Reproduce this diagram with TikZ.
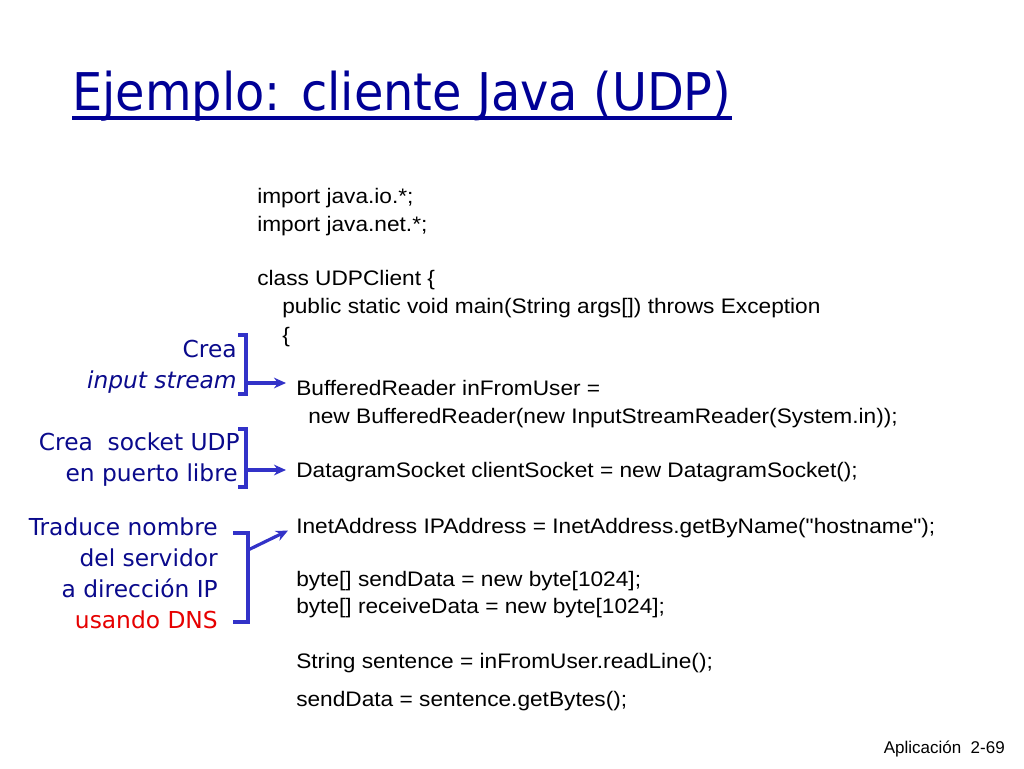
\documentclass[tikz,border=0pt]{standalone}
\usepackage{fontspec}
\setmainfont{Liberation Sans}
\newfontfamily\codefont[FakeStretch=1.08]{Liberation Sans}
\newfontfamily\comicfont{DejaVu Sans}
\newfontfamily\titlefont[FakeStretch=0.92]{DejaVu Sans}
\usetikzlibrary{arrows.meta}
\definecolor{titleblue}{RGB}{0,0,150}
\definecolor{labelblue}{RGB}{10,10,140}
\definecolor{brk}{RGB}{50,50,200}
\definecolor{dnsred}{RGB}{230,0,0}
\begin{document}
\begin{tikzpicture}[x=0.75pt,y=-0.75pt,
  code/.style={anchor=base west, inner sep=0pt, text=black, font=\codefont\fontsize{15.75}{18}\selectfont},
  lab/.style={anchor=base east, inner sep=0pt, text=labelblue, font=\comicfont\fontsize{17.5}{20}\selectfont},
  bracketline/.style={draw=brk, line width=2.8pt},
  arr/.style={draw=brk, line width=2.4pt, -{Stealth[length=9pt,width=8pt]}}]
\fill[white] (0,0) rectangle (1024,768);
\useasboundingbox (0,0) rectangle (1024,768);

% title
\node[anchor=base west, inner sep=0pt, text=titleblue, font=\titlefont\fontsize{39}{44}\selectfont] (title) at (72,110) {Ejemplo: cliente Java (UDP)};
\draw[titleblue, line width=3pt] (title.base west |- 0,118) coordinate (ul1) -- (ul1 -| title.base east);

% code
\node[code] (c1) at (257,203) {import java.io.*;};
\node[code] (c2) at (257,231) {import java.net.*;};
\node[code] (c3) at (257,285) {class UDPClient \{};
\node[code] (c4) at (282,313) {public static void main(String args[]) throws Exception};
\node[code] (c5) at (282,342) {\{};
\node[code] (c6) at (296,395) {BufferedReader inFromUser =};
\node[code] (c7) at (308,423) {new BufferedReader(new InputStreamReader(System.in));};
\node[code] (c8) at (296,477) {DatagramSocket clientSocket = new DatagramSocket();};
\node[code] (c9) at (296,533) {InetAddress IPAddress = InetAddress.getByName("hostname");};
\node[code] (c10) at (296,586) {byte[] sendData = new byte[1024];};
\node[code] (c11) at (296,613) {byte[] receiveData = new byte[1024];};
\node[code] (c12) at (296,668) {String sentence = inFromUser.readLine();};
\node[code] (c13) at (296,706) {sendData = sentence.getBytes();};

% labels
\node[lab] (l1) at (237,357) {Crea};
\node[lab] (l2) at (237,388) {\itshape input stream};
\node[lab] (l3) at (240,450) {Crea\ \ socket UDP};
\node[lab] (l4) at (238,481) {en puerto libre};
\node[lab] (l5) at (218,535) {Traduce nombre};
\node[lab] (l6) at (218,566) {del servidor};
\node[lab] (l7) at (218,597) {a dirección IP};
\node[lab, text=dnsred] (l8) at (218,628) {usando DNS};

% brackets
\draw[bracketline] (238,335) -- (246,335) -- (246,394) -- (238,394);
\draw[bracketline] (238,429) -- (246,429) -- (246,487) -- (238,487);
\draw[bracketline] (233,533) -- (248,533) -- (248,622) -- (233,622);
\coordinate (a1) at (246,383);
\coordinate (a2) at (246,470);
\coordinate (a3) at (248,550);
\draw[arr] (a1) -- ([xshift=-7.5pt]a1 -| c6.west);
\draw[arr] (a2) -- ([xshift=-7.5pt]a2 -| c8.west);
\draw[arr] (a3) -- ([shift={(-8,3)}]c9.west);

% footer
\node[anchor=base east, inner sep=0pt, font=\fontsize{12.75}{15}\selectfont] (foot) at (1005,753) {Aplicación\ \ 2-69};
\end{tikzpicture}
\end{document}
